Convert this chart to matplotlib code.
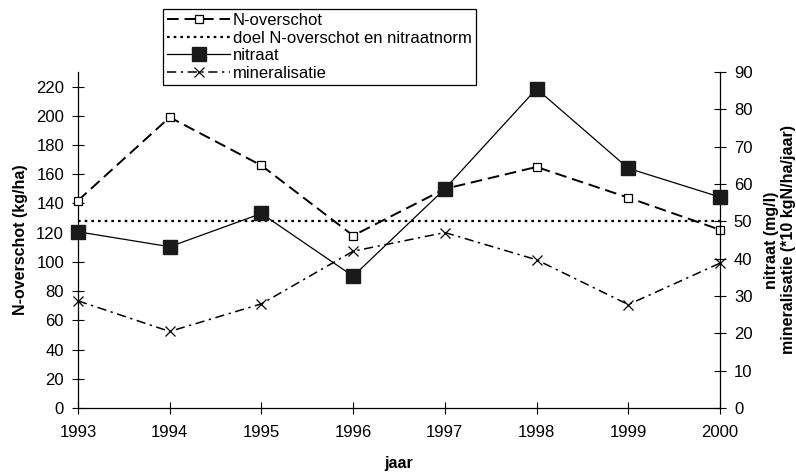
import matplotlib
matplotlib.use("Agg")
import matplotlib.pyplot as plt

plt.rcParams['font.family'] = ['Liberation Sans', 'DejaVu Sans']
plt.rcParams['font.size'] = 12

# data
jaren = [1993, 1994, 1995, 1996, 1997, 1998, 1999, 2000]
n_overschot = [142, 199, 166, 118, 150, 165, 144, 122]     # kg/ha, left axis
doel = [50, 50, 50, 50, 50, 50, 50, 50]                     # mg/l, right axis
nitraat = [47.2, 43.2, 52.1, 35.3, 58.7, 85.5, 64.2, 56.5]  # mg/l, right axis
mineralisatie = [28.7, 20.5, 27.9, 42.0, 47.0, 39.7, 27.7, 38.8]

links_ticks = list(range(0, 221, 20))
rechts_ticks = list(range(0, 91, 10))

fig = plt.figure(figsize=(7.96, 4.73), dpi=100)
ax = fig.add_axes([78 / 796, 1 - 408 / 473, (720 - 78) / 796, (408 - 72) / 473])
ax2 = ax.twinx()

l1, = ax.plot(jaren, n_overschot, color='black', lw=1.4, dashes=(6, 3),
              marker='s', ms=6, mfc='white', mec='black', mew=0.9,
              clip_on=False, zorder=3, label='N-overschot')
l2, = ax2.plot(jaren, doel, color='black', lw=1.6, dashes=(1.2, 1.8),
               clip_on=False, label='doel N-overschot en nitraatnorm')
l3, = ax2.plot(jaren, nitraat, color='black', lw=0.9,
               marker='s', ms=10, mfc='#1a1a1a', mec='#1a1a1a',
               clip_on=False, zorder=4, label='nitraat')
l4, = ax2.plot(jaren, mineralisatie, color='black', lw=1.1,
               dashes=(6, 3, 1.5, 3), marker='x', ms=7, mew=0.9,
               clip_on=False, label='mineralisatie')

ax.set_xlim(1993, 2000)
ax.set_ylim(0, 230)
ax2.set_ylim(0, 90)
ax.set_xticks(jaren)
ax.set_yticks(links_ticks)
ax2.set_yticks(rechts_ticks)

for a in (ax, ax2):
    a.spines['top'].set_visible(False)
    for s in a.spines.values():
        s.set_linewidth(0.9)
    a.tick_params(direction='inout', length=8, width=0.8, labelsize=12, pad=6)
ax.spines['right'].set_visible(False)
ax2.spines['left'].set_visible(False)
ax2.spines['bottom'].set_visible(False)
ax.tick_params(axis='x', pad=8)

ax.set_xlabel('jaar', fontweight='bold', fontsize=11.5, labelpad=12)
ax.set_ylabel('N-overschot (kg/ha)', fontweight='bold', fontsize=11.5, labelpad=6)
ax2.set_ylabel('nitraat (mg/l)\nmineralisatie (*10 kgN/ha/jaar)',
               fontweight='bold', fontsize=11.5, labelpad=8)

leg = ax2.legend(handles=[l1, l2, l3, l4], loc='upper left',
                 bbox_to_anchor=(163 / 796, 1 - 9 / 473),
                 bbox_transform=fig.transFigure, borderaxespad=0,
                 borderpad=0.25, handlelength=3.8, handletextpad=0.15,
                 labelspacing=0.15, fancybox=False, framealpha=1,
                 edgecolor='black', fontsize=12)
leg.get_frame().set_linewidth(0.9)

fig.savefig('out.png', dpi=100)
